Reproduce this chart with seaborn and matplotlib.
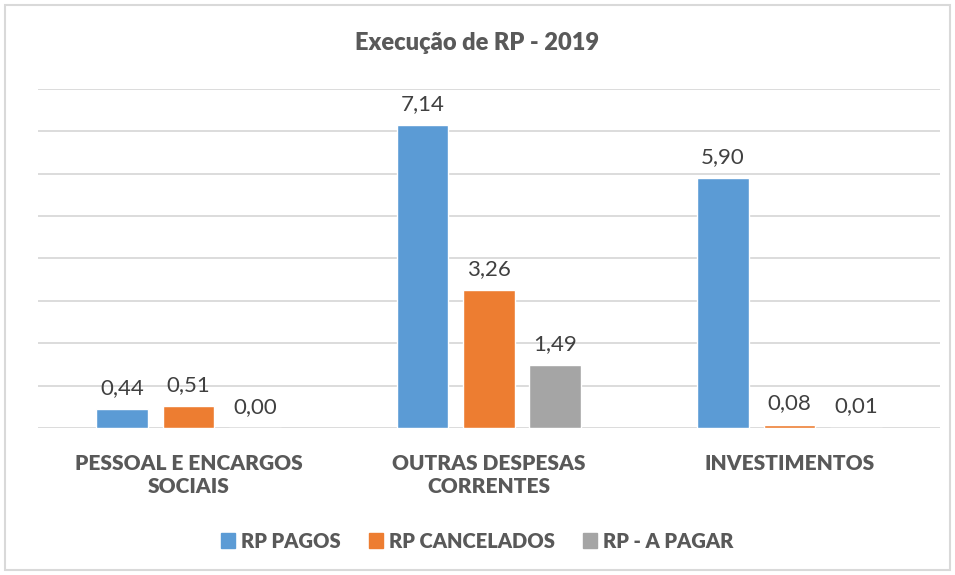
import numpy as np
import pandas as pd
import matplotlib
matplotlib.use("Agg")
import matplotlib.pyplot as plt
import seaborn as sns

categories = ["PESSOAL E ENCARGOS\nSOCIAIS", "OUTRAS DESPESAS\nCORRENTES", "INVESTIMENTOS"]
series = ["RP PAGOS", "RP CANCELADOS", "RP - A PAGAR"]
rp_pagos = [0.44, 7.14, 5.90]
rp_cancelados = [0.51, 3.26, 0.08]
rp_a_pagar = [0.00, 1.49, 0.01]
colors = ["#5B9BD5", "#ED7D31", "#A5A5A5"]

df = pd.DataFrame({
    "cat": categories * 3,
    "serie": [s for s in series for _ in categories],
    "valor": rp_pagos + rp_cancelados + rp_a_pagar,
})

sns.set_theme(style="white")
plt.rcParams["font.family"] = ["Lato", "DejaVu Sans"]
txt = "#595959"

fig = plt.figure(figsize=(9.55, 5.75), dpi=100)
ax = fig.add_axes([0.040, 0.2557, 0.944, 0.5896])

sns.barplot(data=df, x="cat", y="valor", hue="serie", hue_order=series,
            palette=colors, width=0.663, gap=0.22, saturation=1,
            legend=False, ax=ax)

ax.set_ylim(0, 8)
ax.set_xlim(-0.5, 2.5)
ax.set_yticks(np.arange(0, 9, 1))
ax.yaxis.grid(True, color="#D9D9D9", linewidth=1.3)
ax.set_axisbelow(True)
for s in ax.spines.values():
    s.set_visible(False)
ax.tick_params(axis="y", left=False, labelleft=False)
ax.tick_params(axis="x", bottom=False, pad=13)
ax.set_xlabel("")
ax.set_ylabel("")
for lab in ax.get_xticklabels():
    lab.set_fontsize(15)
    lab.set_fontweight("heavy")
    lab.set_color(txt)
    lab.set_linespacing(1.25)

for cont in ax.containers:
    ax.bar_label(cont, labels=[f"{v:.2f}".replace(".", ",") for v in cont.datavalues],
                 padding=8, fontsize=16, color="#404040")

fig.text(0.5, 0.925, "Execução de RP - 2019", ha="center", va="center",
         fontsize=17, fontweight="heavy", color=txt)

handles = [plt.Rectangle((0, 0), 1, 1, color=c) for c in colors]
leg = fig.legend(handles, series, loc="center", bbox_to_anchor=(0.5, 0.059), ncol=3,
                 frameon=False, handlelength=0.7, handleheight=0.7, handletextpad=0.3,
                 columnspacing=1.4, prop={"size": 14.5, "weight": "heavy"})
for t in leg.get_texts():
    t.set_color(txt)

fig.patches.append(plt.Rectangle((0.005, 0.008), 0.99, 0.984, transform=fig.transFigure,
                                 fill=False, edgecolor="#D9D9D9", linewidth=1.5))

fig.savefig("out.png", dpi=100)
